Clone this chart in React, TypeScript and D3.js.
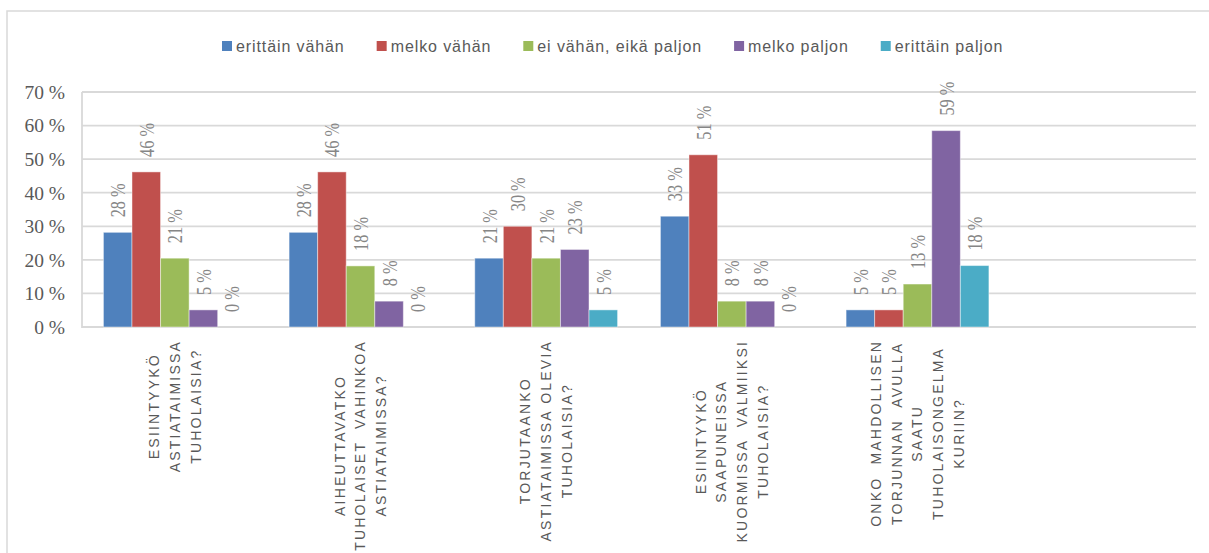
import React, { useEffect, useRef } from "react";
import * as d3 from "d3";

// ---- data ----
const categoryLines: string[][] = [
  ["ESIINTYYKÖ", "ASTIATAIMISSA", "TUHOLAISIA?"],
  ["AIHEUTTAVATKO", "TUHOLAISET  VAHINKOA", "ASTIATAIMISSA?"],
  ["TORJUTAANKO", "ASTIATAIMISSA OLEVIA", "TUHOLAISIA?"],
  ["ESIINTYYKÖ", "SAAPUNEISSA", "KUORMISSA  VALMIIKSI", "TUHOLAISIA?"],
  ["ONKO  MAHDOLLISEN", "TORJUNNAN  AVULLA", "SAATU", "TUHOLAISONGELMA", "KURIIN?"],
  [],
];
const seriesNames = ["erittäin vähän", "melko vähän", "ei vähän, eikä paljon", "melko paljon", "erittäin paljon"];
const seriesColors = ["#4F81BD", "#C0504D", "#9BBB59", "#8064A2", "#4BACC6"];
const erittainVahan = [28.2, 28.2, 20.5, 33.0, 5.1];
const melkoVahan = [46.2, 46.2, 30.0, 51.3, 5.1];
const eiVahanEikaPaljon = [20.5, 18.2, 20.5, 7.7, 12.8];
const melkoPaljon = [5.1, 7.7, 23.1, 7.7, 58.5];
const erittainPaljon = [0, 0, 5.1, 0, 18.3];
const seriesValues = [erittainVahan, melkoVahan, eiVahanEikaPaljon, melkoPaljon, erittainPaljon];
const yTicks = [0, 10, 20, 30, 40, 50, 60, 70];

const W = 1209;
const H = 553;

export default function App() {
  const ref = useRef<SVGSVGElement>(null);

  useEffect(() => {
    const svg = d3.select(ref.current);
    svg.selectAll("*").remove();

    const left = 82, right = 1196, top = 92, bottom = 327;
    const grid = "#d9d9d9";

    // outer chart border
    svg.append("rect").attr("x", 7).attr("y", 11).attr("width", W + 20).attr("height", H + 20)
      .attr("fill", "#fff").attr("stroke", grid).attr("stroke-width", 1.5);

    const y = d3.scaleLinear().domain([0, 70]).range([bottom, top]);
    const catIdx = categoryLines.map((_, i) => String(i));
    const x0 = d3.scaleBand<string>().domain(catIdx).range([left, right]).paddingInner(0).paddingOuter(0);
    const bw = x0.bandwidth();
    const barW = bw / 6.5;
    const gap = (bw - barW * 5) / 2;
    const x1 = d3.scaleBand<string>().domain(seriesNames).range([gap, bw - gap]).padding(0);

    // gridlines
    svg.append("g").selectAll("line").data(yTicks).join("line")
      .attr("x1", left).attr("x2", right)
      .attr("y1", d => y(d)).attr("y2", d => y(d))
      .attr("stroke", grid).attr("stroke-width", 1.8);
    // left axis line
    svg.append("line").attr("x1", left).attr("x2", left).attr("y1", top).attr("y2", bottom + 1)
      .attr("stroke", grid).attr("stroke-width", 1.8);

    // y tick labels
    svg.append("g").selectAll("text").data(yTicks).join("text")
      .attr("x", 65).attr("y", d => y(d)).attr("dy", "0.35em")
      .attr("text-anchor", "end")
      .attr("font-family", "'Liberation Serif', 'Times New Roman', serif")
      .attr("font-size", 19.5).attr("fill", "#595959")
      .text(d => `${d} %`);

    // bars
    seriesNames.forEach((s, si) => {
      const vals = seriesValues[si];
      const g = svg.append("g");
      vals.forEach((v, ci) => {
        const bx = (x0(String(ci)) as number) + (x1(s) as number);
        g.append("rect")
          .attr("x", bx).attr("width", x1.bandwidth())
          .attr("y", y(v)).attr("height", bottom - y(v))
          .attr("fill", seriesColors[si])
          .attr("stroke", "rgba(255,255,255,0.45)").attr("stroke-width", 1);
        const cx = bx + x1.bandwidth() / 2;
        g.append("text")
          .attr("transform", `translate(${cx},${y(v) - 15}) rotate(-90) scale(0.76,1)`)
          .attr("dy", "0.35em")
          .attr("text-anchor", "start")
          .attr("font-family", "'Liberation Serif', 'Times New Roman', serif")
          .attr("font-size", 21.5).attr("fill", "#868686")
          .text(`${Math.round(v)} %`);
      });
    });

    // category labels
    const lineH = 20.8;
    categoryLines.forEach((lines, ci) => {
      if (!lines.length) return;
      const cx = (x0(String(ci)) as number) + bw / 2;
      const g = svg.append("g");
      const texts = lines.map((ln, li) => {
        const lx = cx + (li - (lines.length - 1) / 2) * lineH;
        return g.append("text")
          .attr("text-anchor", "middle")
          .attr("dy", "0.35em")
          .attr("font-family", "'Liberation Sans', Arial, sans-serif")
          .attr("font-size", 14)
          .attr("letter-spacing", 2.2)
          .attr("fill", "#595959")
          .attr("xml:space", "preserve")
          .style("white-space", "pre")
          .attr("data-x", lx)
          .text(ln);
      });
      const maxLen = d3.max(texts, t => (t.node() as SVGTextElement).getComputedTextLength()) || 0;
      const cy = 340 + maxLen / 2;
      texts.forEach(t => {
        const lx = +t.attr("data-x");
        t.attr("transform", `translate(${lx},${cy}) rotate(-90)`);
      });
    });

    // legend
    const lg = svg.append("g");
    let lx = 222;
    const ly = 46;
    seriesNames.forEach((s, si) => {
      lg.append("rect").attr("x", lx).attr("y", ly - 5).attr("width", 10).attr("height", 10)
        .attr("fill", seriesColors[si]);
      const t = lg.append("text").attr("x", lx + 14).attr("y", ly).attr("dy", "0.35em")
        .attr("font-family", "'Liberation Sans', Arial, sans-serif")
        .attr("font-size", 16).attr("letter-spacing", 0.9).attr("fill", "#595959")
        .text(s);
      const w = (t.node() as SVGTextElement).getComputedTextLength();
      lx += 14 + w + 32;
    });
  }, []);

  return (
    <svg ref={ref} width={W} height={H}
      style={{ position: "absolute", left: 0, top: 0, display: "block", background: "#fff" }} />
  );
}
